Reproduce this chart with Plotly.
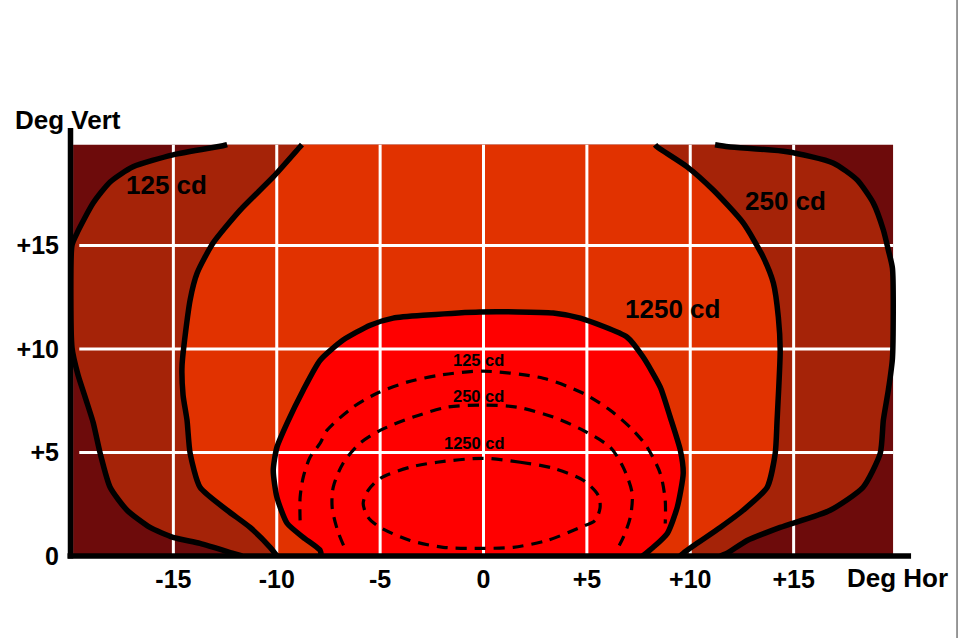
import plotly.graph_objects as go

# ---------------- data (degrees) ----------------
# outer contour (boundary of the 125 cd zone), left branch, bottom -> top
OUTER_L_X = [-11.68, -12.11, -13.71, -15.02, -16.13, -17.24, -18.06, -18.54, -18.88, -19.22, -19.61, -19.90,
             -19.90, -19.66, -18.88, -18.06, -16.95, -15.02, -12.60, -12.40]
OUTER_L_Y = [0.00, 0.13, 0.61, 0.90, 1.38, 2.21, 3.32, 4.96, 6.45, 7.53, 8.74, 10.04,
             15.02, 15.60, 17.05, 18.07, 18.80, 19.38, 19.82, 19.87]
# outer contour, right branch, top -> bottom
OUTER_R_X = [11.20, 11.84, 14.69, 16.91, 18.07, 18.85, 19.34, 19.58, 19.78,
             19.78, 19.58, 19.34, 19.19, 18.36, 16.77, 14.35, 12.75, 11.78, 11.45]
OUTER_R_Y = [19.87, 19.77, 19.53, 18.99, 18.17, 17.06, 15.75, 14.78, 13.90,
             9.55, 8.01, 6.56, 4.96, 3.32, 2.21, 1.38, 0.75, 0.13, 0.00]

# middle contour (boundary of the 1250 cd zone), left branch bottom -> top
MID_L_X = [-9.99, -10.32, -11.29, -12.40, -13.71, -14.19, -14.34, -14.53, -14.58, -14.19, -13.85,
           -13.08, -11.77, -10.17, -8.87, -8.78]
MID_L_Y = [0.00, 0.42, 1.38, 2.21, 3.32, 4.96, 6.56, 7.77, 9.22, 12.37, 13.67,
           15.12, 16.71, 18.31, 19.77, 19.87]
# middle contour, right branch top -> bottom
MID_R_X = [8.30, 8.39, 9.85, 11.10, 12.56, 13.53, 14.02, 14.26, 14.35, 14.20, 14.11, 13.72,
           12.56, 11.45, 10.33, 9.66, 9.51]
MID_R_Y = [19.87, 19.77, 18.80, 17.69, 16.09, 14.44, 13.19, 11.55, 9.95, 6.56, 4.96, 3.32,
           2.21, 1.38, 0.61, 0.13, 0.00]

# inner solid contour (bright red zone)
INNER_X = [-7.85, -7.90, -8.72, -9.50, -9.99, -10.17, -9.99, -9.50, -8.72, -7.90, -6.79, -5.48, -4.37,
           -2.73, -0.16, 3.37, 4.68, 6.95, 7.72, 8.55, 9.03, 9.52, 9.66, 9.37, 8.89, 8.21, 7.70]
INNER_Y = [0.00, 0.27, 0.90, 1.58, 2.83, 4.14, 5.26, 6.42, 8.01, 9.46, 10.43, 11.15, 11.49,
           11.64, 11.79, 11.74, 11.49, 10.57, 9.61, 8.16, 6.71, 5.11, 4.00, 2.35, 1.09, 0.42, 0.00]

# dashed iso-lines inside the red zone
DASH1_X = [-8.87, -8.87, -8.72, -8.39, -7.90, -7.57, -6.31, -5.15, -3.70, -2.10, 0.00,
           2.89, 4.82, 6.13, 7.24, 7.92, 8.55, 8.79, 8.79]
DASH1_Y = [1.72, 2.83, 3.80, 4.77, 5.45, 6.07, 7.19, 7.86, 8.40, 8.74, 8.93,
           8.59, 7.86, 7.04, 6.07, 5.25, 3.99, 2.69, 1.57]
DASH2_X = [-6.77, -7.06, -7.32, -7.27, -6.79, -5.97, -5.00, -3.40, -1.76, 0.00, 1.63, 3.37,
           4.82, 6.13, 6.76, 7.19, 7.10, 6.76, 6.52]
DASH2_Y = [0.51, 1.24, 2.35, 3.32, 4.48, 5.45, 6.07, 6.71, 7.19, 7.29, 7.19, 6.71,
           6.07, 5.25, 4.28, 3.03, 1.87, 0.90, 0.42]
DASH3_X = [0.00, 1.78, 3.37, 4.82, 5.55, 5.64, 5.40, 4.68, 3.08, 1.44, 0.00, -1.95, -3.55,
           -5.00, -5.58, -5.82, -5.58, -5.00, -3.55, -2.24, 0.00]
DASH3_Y = [4.72, 4.53, 4.24, 3.66, 2.93, 2.35, 1.72, 1.38, 0.75, 0.42, 0.37, 0.42, 0.75,
           1.38, 1.87, 2.54, 3.17, 3.75, 4.29, 4.53, 4.72]

# labels
BIG_LABELS = ["125 cd", "250 cd", "1250 cd"]
BIG_LABEL_X = [-15.35, 14.6, 9.15]
BIG_LABEL_Y = [17.93, 17.13, 11.93]
SMALL_LABELS = ["125 cd", "250 cd", "1250 cd"]
SMALL_LABEL_X = [-0.26, -0.26, -0.45]
SMALL_LABEL_Y = [9.46, 7.72, 5.45]

X_TICKS = [-15, -10, -5, 0, 5, 10, 15]
X_TICK_TEXT = ["-15", "-10", "-5", "0", "+5", "+10", "+15"]
Y_TICKS = [0, 5, 10, 15]
Y_TICK_TEXT = ["0", "+5", "+10", "+15"]
GRID_X = [-15, -10, -5, 0, 5, 10, 15]
GRID_Y = [5, 10, 15]

# ---------------- styling ----------------
C_DARK = "#6D0B0B"
C_BAND = "#A52308"
C_ORANGE = "#E13200"
C_RED = "#FF0000"
FILL_TOP = 19.87
FILL_LEFT = -19.85
FILL_RIGHT = 19.81
FONT = "Liberation Sans, Arial, sans-serif"
SPL = dict(shape="spline", smoothing=0.6)

fig = go.Figure()

# band (125 cd) polygon
band_x = OUTER_L_X[11:] + OUTER_R_X + OUTER_L_X[:12]
band_y = OUTER_L_Y[11:] + OUTER_R_Y + OUTER_L_Y[:12]
fig.add_trace(go.Scatter(x=band_x, y=band_y, fill="toself", fillcolor=C_BAND, mode="none",
                         hoverinfo="skip", showlegend=False))
# orange polygon
fig.add_trace(go.Scatter(x=MID_L_X + MID_R_X, y=MID_L_Y + MID_R_Y, fill="toself", fillcolor=C_ORANGE,
                         mode="none", hoverinfo="skip", showlegend=False))
# red polygon
fig.add_trace(go.Scatter(x=INNER_X, y=INNER_Y, fill="toself", fillcolor=C_RED,
                         mode="none", hoverinfo="skip", showlegend=False))

# white grid
gx, gy = [], []
for v in GRID_X:
    gx += [v, v, None]
    gy += [0, FILL_TOP, None]
for v in GRID_Y:
    gx += [FILL_LEFT + 0.3, FILL_RIGHT, None]
    gy += [v, v, None]
fig.add_trace(go.Scatter(x=gx, y=gy, mode="lines", line=dict(color="white", width=3),
                         hoverinfo="skip", showlegend=False))

# solid contours
for xs, ys in [(OUTER_L_X, OUTER_L_Y), (OUTER_R_X, OUTER_R_Y), (MID_L_X, MID_L_Y),
               (MID_R_X, MID_R_Y), (INNER_X, INNER_Y)]:
    fig.add_trace(go.Scatter(x=xs, y=ys, mode="lines", line=dict(color="black", width=5.5, **SPL),
                             hoverinfo="skip", showlegend=False))
# dashed contours
for xs, ys in [(DASH1_X, DASH1_Y), (DASH2_X, DASH2_Y), (DASH3_X, DASH3_Y)]:
    fig.add_trace(go.Scatter(x=xs, y=ys, mode="lines",
                             line=dict(color="black", width=3.2, dash="11px,8px", shape="spline", smoothing=0.8),
                             hoverinfo="skip", showlegend=False))

annotations = []
for t, x, y in zip(BIG_LABELS, BIG_LABEL_X, BIG_LABEL_Y):
    annotations.append(dict(x=x, y=y, text=t, showarrow=False, xanchor="center", yanchor="middle",
                            font=dict(family=FONT, size=26, color="black", weight="bold")))
for t, x, y in zip(SMALL_LABELS, SMALL_LABEL_X, SMALL_LABEL_Y):
    annotations.append(dict(x=x, y=y, text=t, showarrow=False, xanchor="center", yanchor="middle",
                            font=dict(family=FONT, size=16.5, color="black", weight="bold")))
annotations.append(dict(xref="paper", yref="paper", x=-0.0024, y=1.052, text="Deg Vert", showarrow=False,
                        xanchor="center", yanchor="middle",
                        font=dict(family=FONT, size=26, color="black", weight="bold")))
annotations.append(dict(xref="paper", yref="paper", x=1.0, y=-0.053, text="Deg Hor", showarrow=False,
                        xanchor="center", yanchor="middle",
                        font=dict(family=FONT, size=26, color="black", weight="bold")))

shapes = [
    dict(type="rect", xref="x", yref="y", x0=FILL_LEFT, x1=FILL_RIGHT, y0=0, y1=FILL_TOP,
         fillcolor=C_DARK, line=dict(width=0), layer="below"),
    dict(type="line", xref="paper", yref="paper", x0=0.0006, x1=0.0006, y0=-0.006, y1=1.034,
         line=dict(color="black", width=5.5)),
    dict(type="line", xref="paper", yref="paper", x0=-0.003, x1=1.017, y0=0.0, y1=0.0,
         line=dict(color="black", width=5.5)),
    dict(type="line", xref="paper", yref="paper", x0=1.0726, x1=1.0726, y0=-0.2, y1=1.35,
         line=dict(color="#777777", width=1.5)),
]

fig.update_layout(
    width=960, height=638,
    margin=dict(l=70, r=63, t=142, b=82),
    paper_bgcolor="white", plot_bgcolor="white",
    showlegend=False,
    annotations=annotations,
    shapes=shapes,
    xaxis=dict(range=[-20, 20], tickvals=X_TICKS, ticktext=X_TICK_TEXT, showgrid=False, zeroline=False,
               showline=False, ticks="", ticklabelstandoff=6,
               tickfont=dict(family=FONT, size=25, color="black", weight="bold"), fixedrange=True),
    yaxis=dict(range=[0, 20], tickvals=Y_TICKS, ticktext=Y_TICK_TEXT, showgrid=False, zeroline=False,
               showline=False, ticks="", ticklabelstandoff=10,
               tickfont=dict(family=FONT, size=25, color="black", weight="bold"), fixedrange=True),
)

fig.write_html("out.html")
